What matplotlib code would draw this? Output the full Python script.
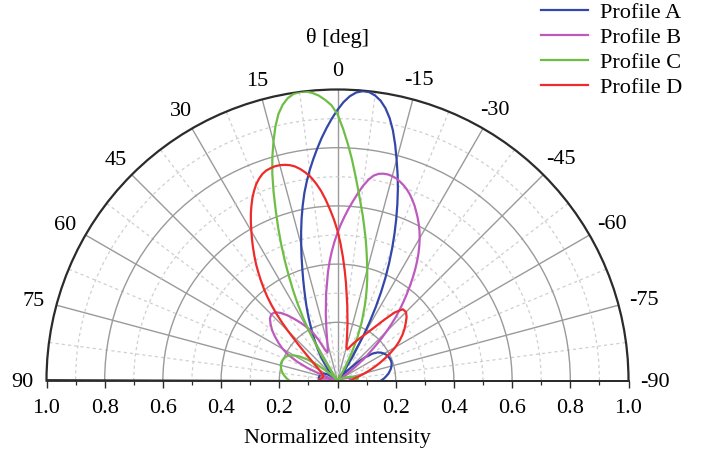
import numpy as np
import matplotlib
matplotlib.use("Agg")
import matplotlib.pyplot as plt
from matplotlib.ticker import FixedLocator
from matplotlib.transforms import offset_copy

plt.rcParams['font.family'] = ['Liberation Serif', 'DejaVu Serif']

# ---------------- data ----------------
# Angles (deg) at which each profile was read: every 2.5 deg, every 1.25 deg
# inside the span of the main lobe.
def sample_grid(lo, hi):
    return np.concatenate([np.arange(-90, lo, 2.5), np.arange(lo, hi, 1.25),
                           np.arange(hi, 90.01, 2.5)])

span_a = (-30, 25)
span_b = (-47.5, 5)
span_c = (-20, 30)
span_d = (-5, 45)

profile_a = [0.150, 0.160, 0.168, 0.176, 0.182, 0.188, 0.192, 0.195, 0.196, 0.195,
             0.193, 0.190, 0.185, 0.178, 0.168, 0.152, 0.125, 0.088, 0.048, 0.018,
             0.004, 0.012, 0.040, 0.095,
             0.180, 0.231, 0.285, 0.338, 0.390, 0.440, 0.490, 0.540, 0.590, 0.640,
             0.690, 0.738, 0.785, 0.834, 0.880, 0.919, 0.950, 0.973, 0.988, 0.997,
             0.998, 0.992, 0.978, 0.957, 0.930, 0.900, 0.868, 0.835, 0.800, 0.765,
             0.730, 0.693, 0.655, 0.613, 0.570, 0.526, 0.482, 0.441, 0.402, 0.367,
             0.335, 0.306, 0.280, 0.255,
             0.232, 0.190, 0.155, 0.125, 0.098, 0.073, 0.050, 0.030, 0.015, 0.008,
             0.012, 0.020, 0.030, 0.038, 0.045, 0.050, 0.055, 0.058, 0.060, 0.062,
             0.063, 0.064, 0.065, 0.065, 0.064, 0.063, 0.062]

profile_b = [0.040, 0.043, 0.045, 0.046, 0.045, 0.042, 0.037, 0.030, 0.022, 0.014,
             0.008, 0.004, 0.006, 0.018, 0.040, 0.080, 0.130,
             0.180, 0.208, 0.238, 0.268, 0.298, 0.325, 0.352, 0.380, 0.408, 0.437,
             0.465, 0.492, 0.518, 0.542, 0.565, 0.586, 0.605, 0.623, 0.640, 0.657,
             0.672, 0.686, 0.698, 0.708, 0.716, 0.723, 0.727, 0.729, 0.728, 0.724,
             0.715, 0.698, 0.675, 0.648, 0.620, 0.593, 0.565, 0.537, 0.508, 0.477,
             0.445, 0.411,
             0.375, 0.300, 0.232, 0.175, 0.135, 0.110, 0.102, 0.118, 0.155, 0.188,
             0.212, 0.235, 0.258, 0.282, 0.303, 0.318, 0.322, 0.315, 0.300, 0.283,
             0.262, 0.240, 0.218, 0.190, 0.153, 0.110, 0.060, 0.022, 0.008, 0.018,
             0.035, 0.050, 0.060, 0.065, 0.066]

profile_c = [0.060, 0.066, 0.070, 0.070, 0.066, 0.058, 0.048, 0.038, 0.028, 0.019,
             0.012, 0.007, 0.004, 0.002, 0.002, 0.003, 0.004, 0.005, 0.006, 0.006,
             0.005, 0.003, 0.006, 0.020, 0.050, 0.100, 0.160, 0.218,
             0.275, 0.305, 0.335, 0.365, 0.395, 0.426, 0.460, 0.496, 0.532, 0.572,
             0.612, 0.657, 0.707, 0.761, 0.814, 0.866, 0.915, 0.946, 0.965, 0.981,
             0.992, 0.999, 1.000, 0.996, 0.985, 0.966, 0.938, 0.898, 0.850, 0.800,
             0.745, 0.683, 0.620, 0.562, 0.505, 0.449, 0.395, 0.344, 0.295, 0.245,
             0.195, 0.100, 0.035, 0.008, 0.002, 0.003, 0.010, 0.028, 0.058, 0.092,
             0.125, 0.153, 0.172, 0.186, 0.195, 0.199, 0.202, 0.203, 0.202, 0.199,
             0.195, 0.190, 0.183, 0.175, 0.166]

profile_d = [0.048, 0.050, 0.053, 0.060, 0.070, 0.083, 0.098, 0.115, 0.135, 0.157,
             0.180, 0.205, 0.230, 0.252, 0.272, 0.290, 0.306, 0.322, 0.333, 0.332,
             0.305, 0.262, 0.225, 0.198, 0.178, 0.162, 0.148, 0.135, 0.122, 0.112,
             0.118, 0.150, 0.198, 0.258,
             0.335, 0.379, 0.425, 0.471, 0.515, 0.553, 0.588, 0.623, 0.655, 0.682,
             0.705, 0.723, 0.738, 0.750, 0.758, 0.763, 0.766, 0.767, 0.765, 0.762,
             0.755, 0.744, 0.730, 0.712, 0.692, 0.669, 0.645, 0.619, 0.592, 0.566,
             0.540, 0.514, 0.488, 0.460, 0.432, 0.404, 0.375, 0.343, 0.310, 0.275,
             0.240, 0.182, 0.142, 0.113, 0.095, 0.082, 0.072, 0.065, 0.060, 0.056,
             0.054, 0.052, 0.051, 0.052, 0.054, 0.057, 0.060, 0.062, 0.063]

series_names = ["Profile A", "Profile B", "Profile C", "Profile D"]
series_colors = ["#3347A8", "#BE5ABE", "#6EBE46", "#EE2A2A"]

theta_ticks = list(range(-90, 91, 15))
theta_labels = [str(t) for t in theta_ticks]
theta_minor = [t + 7.5 for t in range(-90, 90, 15)]
r_major = [0.2, 0.4, 0.6, 0.8]
r_minor = [0.1, 0.3, 0.5, 0.7, 0.9]
x_ticks = [-1.0, -0.8, -0.6, -0.4, -0.2, 0.0, 0.2, 0.4, 0.6, 0.8, 1.0]
x_tick_labels = ["1.0", "0.8", "0.6", "0.4", "0.2", "0.0", "0.2", "0.4", "0.6", "0.8", "1.0"]
x_minor = [-0.9, -0.7, -0.5, -0.3, -0.1, 0.1, 0.3, 0.5, 0.7, 0.9]

FS = 16

# ---------------- figure ----------------
W_PX, H_PX = 708, 455
fig = plt.figure(figsize=(W_PX / 100, H_PX / 100), dpi=100)
fig.patch.set_facecolor("white")

cx, cy, R = 337.5, 380.5, 291.0
# polar axes keeps a square box; the half disk sits in the middle half of it
side = 2 * R
L = (cx - R) / W_PX
Bp = ((H_PX - cy) - R / 2) / H_PX
ax = fig.add_axes([L, Bp, side / W_PX, side / H_PX], projection="polar")
ax.set_theta_zero_location("N")
ax.set_theta_direction(1)
ax.set_thetamin(-90)
ax.set_thetamax(90)
ax.set_rlim(0, 1)

GRID_MAJ = "#9a9a9a"
GRID_MIN = "#cfcfcf"
DARK = "#2b2b2b"

ax.set_thetagrids(theta_ticks, [""] * len(theta_ticks))
ax.xaxis.set_minor_locator(FixedLocator(np.deg2rad(theta_minor)))
ax.set_rticks(r_major)
ax.yaxis.set_minor_locator(FixedLocator(r_minor))
ax.set_yticklabels([])
ax.tick_params(axis="y", which="both", length=0)
ax.tick_params(axis="x", which="major", direction="in", length=4.5, width=1.0, color=DARK)
ax.tick_params(axis="x", which="minor", direction="in", length=2.5, width=0.9, color=DARK)

ax.grid(True, which="major", color=GRID_MAJ, linewidth=1.0, linestyle="-")
ax.xaxis.grid(True, which="minor", color=GRID_MIN, linewidth=0.9, linestyle=(0, (2.5, 2.5)))
ax.yaxis.grid(True, which="minor", color=GRID_MIN, linewidth=0.9, linestyle=(0, (2.5, 2.5)))

ax.spines["polar"].set_color(DARK)
ax.spines["polar"].set_linewidth(1.6)
for s in ("start", "end"):
    ax.spines[s].set_color(DARK)
    ax.spines[s].set_linewidth(1.3)
if "inner" in ax.spines:
    ax.spines["inner"].set_visible(False)

# angular labels placed just outside the arc
lab_tr = offset_copy(ax.transData, fig=fig, x=0, y=-2, units="dots")
for t, lab in zip(theta_ticks, theta_labels):
    s = abs(np.sin(np.deg2rad(t)))
    gap = (20.5 + 6.0 * s) if t < 0 else (20.0 + 4.0 * s)
    ax.text(np.deg2rad(t), 1 + gap / R, lab, transform=lab_tr, ha="center", va="center",
            fontsize=FS, clip_on=False)

handles = []
for name, span, vals, col in zip(series_names, [span_a, span_b, span_c, span_d],
                                 [profile_a, profile_b, profile_c, profile_d], series_colors):
    th = np.deg2rad(sample_grid(*span))
    h, = ax.plot(th, vals, color=col, linewidth=1.6, label=name, zorder=3,
                 solid_joinstyle="round")
    handles.append(h)

# ---------------- bottom Cartesian axis (normalized intensity) ----------------
ax2 = fig.add_axes([L, (H_PX - cy) / H_PX, side / W_PX, 1e-5])
ax2.set_xlim(-1, 1)
ax2.set_ylim(0, 1)
ax2.patch.set_visible(False)
for s in ("left", "right", "top"):
    ax2.spines[s].set_visible(False)
ax2.spines["bottom"].set_color(DARK)
ax2.spines["bottom"].set_linewidth(1.3)
ax2.set_yticks([])
ax2.set_xticks(x_ticks)
ax2.set_xticklabels(x_tick_labels)
ax2.xaxis.set_minor_locator(FixedLocator(x_minor))
ax2.tick_params(axis="x", which="major", direction="out", length=5, width=1.0,
                color=DARK, labelsize=FS, pad=8.5)
ax2.tick_params(axis="x", which="minor", direction="out", length=3, width=0.9, color=DARK)

fig.text(cx / W_PX, 1 - 439 / H_PX, "Normalized intensity", ha="center", va="center", fontsize=FS)
fig.text(cx / W_PX, 1 - 38 / H_PX, "θ [deg]", ha="center", va="center", fontsize=FS)

fig.legend(handles=handles, loc="upper left", bbox_to_anchor=(541 / W_PX, 1 - 2 / H_PX),
           frameon=False, fontsize=FS, handlelength=2.1, handletextpad=0.55,
           labelspacing=0.2, borderpad=0.0, borderaxespad=0.0)

fig.savefig("out.png", dpi=100, facecolor="white")
